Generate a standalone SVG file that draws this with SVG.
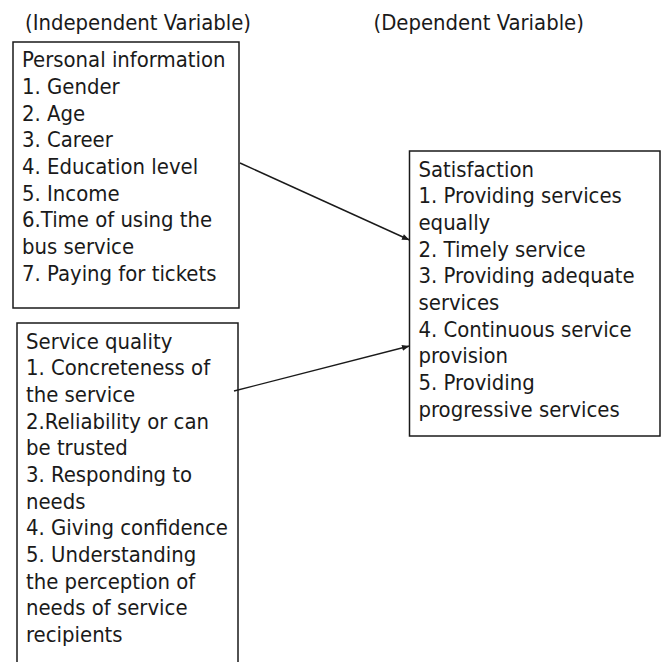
<svg xmlns="http://www.w3.org/2000/svg" width="665" height="662" viewBox="0 0 665 662">
<style>
text{font-family:'DejaVu Sans Condensed','DejaVu Sans',sans-serif;font-stretch:condensed;font-size:21.9px;fill:#1a1a1a}
.box{fill:#fff;stroke:#1a1a1a;stroke-width:1.5}
.conn{stroke:#1a1a1a;stroke-width:1.4;fill:none;marker-end:url(#ah)}
</style>
<defs>
<marker id="ah" viewBox="0 0 10 8" refX="10" refY="4" markerWidth="8" markerHeight="6" markerUnits="userSpaceOnUse" orient="auto">
<path d="M0,0 L10,4 L0,8 z" fill="#1a1a1a"/>
</marker>
</defs>
<rect width="665" height="662" fill="#fff"/>
<g id="titles">
<text x="25" y="30">(Independent Variable)</text>
<text x="373.5" y="30">(Dependent Variable)</text>
</g>
<g id="personal">
<rect class="box" x="13" y="42" width="226" height="266"/>
<text x="22" y="67.4">Personal information</text>
<text x="22" y="94.1">1. Gender</text>
<text x="22" y="120.7">2. Age</text>
<text x="22" y="147.4">3. Career</text>
<text x="22" y="174.1">4. Education level</text>
<text x="22" y="200.7">5. Income</text>
<text x="22" y="227.4">6.Time of using the</text>
<text x="22" y="254.1">bus service</text>
<text x="22" y="280.7">7. Paying for tickets</text>
</g>
<g id="service">
<path class="box" d="M17,670 L17,323 L238,323 L238,670"/>
<text x="26" y="348.7">Service quality</text>
<text x="26" y="375.4">1. Concreteness of</text>
<text x="26" y="402">the service</text>
<text x="26" y="428.7">2.Reliability or can</text>
<text x="26" y="455.4">be trusted</text>
<text x="26" y="482">3. Responding to</text>
<text x="26" y="508.7">needs</text>
<text x="26" y="535.4">4. Giving confidence</text>
<text x="26" y="562">5. Understanding</text>
<text x="26" y="588.7">the perception of</text>
<text x="26" y="615.4">needs of service</text>
<text x="26" y="642">recipients</text>
</g>
<g id="satisfaction">
<rect class="box" x="409.5" y="151" width="250.5" height="285"/>
<text x="418.5" y="176.7">Satisfaction</text>
<text x="418.5" y="203.4">1. Providing services</text>
<text x="418.5" y="230">equally</text>
<text x="418.5" y="256.7">2. Timely service</text>
<text x="418.5" y="283.4">3. Providing adequate</text>
<text x="418.5" y="310">services</text>
<text x="418.5" y="336.7">4. Continuous service</text>
<text x="418.5" y="363.4">provision</text>
<text x="418.5" y="390">5. Providing</text>
<text x="418.5" y="416.7">progressive services</text>
</g>
<g id="connectors">
<line class="conn" x1="240" y1="163" x2="409.5" y2="240"/>
<line class="conn" x1="234" y1="391" x2="409.5" y2="346"/>
</g>
</svg>
